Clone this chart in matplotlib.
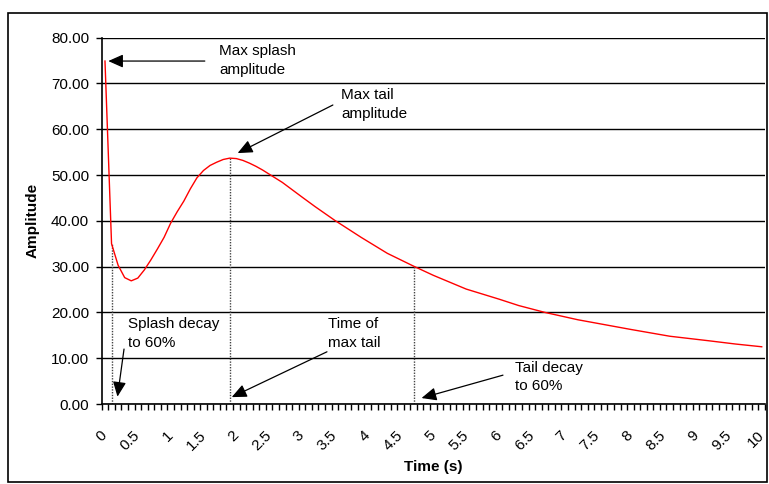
import matplotlib.pyplot as plt
import numpy as np
from matplotlib.patches import Rectangle

plt.rcParams['font.family'] = ['Liberation Sans', 'DejaVu Sans']

# amplitude trace
time_s = [0.0, 0.1, 0.2, 0.3, 0.4, 0.5, 0.6, 0.7, 0.8, 0.9, 1.0, 1.1, 1.2, 1.3,
          1.4, 1.5, 1.6, 1.7, 1.8, 1.9, 2.0, 2.1, 2.2, 2.3, 2.4, 2.5, 2.7, 3.0,
          3.2, 3.5, 3.9, 4.3, 4.7, 5.0, 5.5, 6.0, 6.3, 6.7, 7.2, 8.0, 8.6, 9.2,
          9.6, 10.0]
amplitude = [74.9, 35.0, 30.3, 27.6, 26.9, 27.5, 29.3, 31.5, 33.9, 36.4, 39.5,
             42.0, 44.3, 47.0, 49.4, 51.0, 52.1, 52.8, 53.4, 53.7, 53.6, 53.2,
             52.6, 51.9, 51.1, 50.2, 48.4, 45.2, 43.1, 40.1, 36.4, 32.9, 30.1,
             28.1, 25.1, 22.9, 21.5, 20.0, 18.4, 16.3, 14.8, 13.8, 13.1, 12.5]

# times marked with dotted lines: splash decay, max tail, tail decay
marker_times = [0.1, 1.9, 4.7]

y_ticks = [0, 10, 20, 30, 40, 50, 60, 70, 80]
x_label_ticks = [i * 0.5 for i in range(21)]
x_labels = ['%g' % v for v in x_label_ticks]

fig = plt.figure(figsize=(7.69, 4.84), dpi=100)
ax = fig.add_axes([101.7 / 769, 1 - 404 / 484, (765 - 101.7) / 769, (404 - 37.7) / 484])

ax.plot(time_s, amplitude, color='#ff0000', lw=1.0, zorder=3)

for t in marker_times:
    top = np.interp(t, time_s, amplitude)
    ax.plot([t, t], [0, top], color='#444444', lw=1.0, ls=(0, (1, 1)), zorder=2)

ax.set_xlim(-0.05, 10.05)
ax.set_ylim(0, 80)
ax.set_yticks(y_ticks)
ax.set_yticklabels(['%.2f' % v for v in y_ticks], fontsize=11)
ax.yaxis.grid(True, color='black', lw=1.0)
ax.set_axisbelow(True)

ax.set_xticks(x_label_ticks)
ax.set_xticklabels(x_labels, fontsize=11, rotation=45, ha='right', va='center',
                   rotation_mode='anchor')
ax.set_xticks(np.arange(-0.05, 10.06, 0.1), minor=True)
ax.tick_params(axis='x', which='major', length=0, pad=21)
ax.tick_params(axis='x', which='minor', length=4, width=1, direction='out')
ax.tick_params(axis='y', length=4, width=1, direction='out', pad=5)

for s in ['top', 'right']:
    ax.spines[s].set_visible(False)
ax.spines['left'].set_linewidth(1.2)
ax.spines['bottom'].set_linewidth(1.2)

ax.set_ylabel('Amplitude', fontsize=11, fontweight='bold', labelpad=8)
ax.set_xlabel('Time (s)', fontsize=11, fontweight='bold', labelpad=5)

arrow = dict(arrowstyle='-|>,head_length=0.45,head_width=0.2', color='black',
             lw=0.9, shrinkA=0, shrinkB=0, mutation_scale=20)
txt = dict(fontsize=11, ha='left', va='top', linespacing=1.45)

ax.annotate('', xy=(0.05, 74.9), xytext=(1.52, 74.9), arrowprops=arrow)
ax.text(1.735, 78.6, 'Max splash\namplitude', **txt)

ax.annotate('', xy=(2.02, 54.8), xytext=(3.47, 65.3), arrowprops=arrow)
ax.text(3.60, 69.0, 'Max tail\namplitude', **txt)

ax.annotate('', xy=(0.19, 1.6), xytext=(0.29, 12.0), arrowprops=arrow)
ax.text(0.345, 19.0, 'Splash decay\nto 60%', **txt)

ax.annotate('', xy=(1.93, 1.5), xytext=(3.38, 11.4), arrowprops=arrow)
ax.text(3.40, 19.0, 'Time of\nmax tail', **txt)

ax.annotate('', xy=(4.82, 1.3), xytext=(6.06, 6.3), arrowprops=arrow)
ax.text(6.24, 9.5, 'Tail decay\nto 60%', **txt)

fig.patches.append(Rectangle((7.5 / 769, 1 - 482 / 484), (767 - 7.5) / 769, (482 - 13) / 484,
                             transform=fig.transFigure, fill=False, ec='black', lw=1.2))

fig.savefig('out.png', dpi=100)
